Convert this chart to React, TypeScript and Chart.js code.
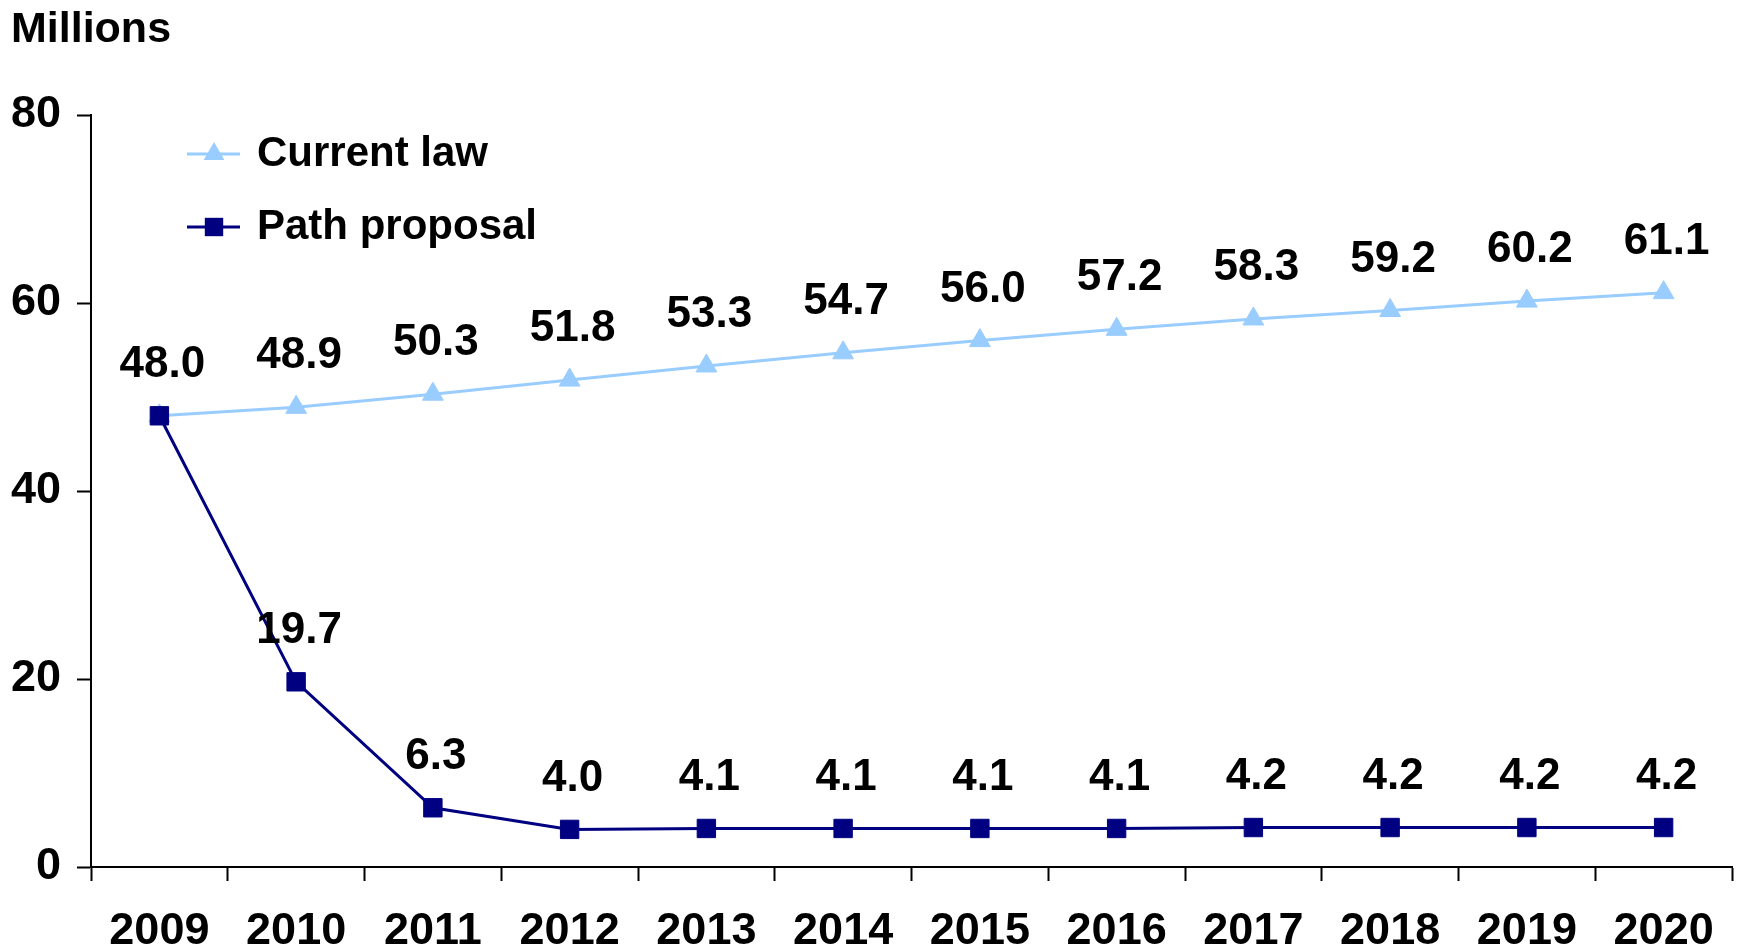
import React, { useEffect, useRef } from "react";
import { Chart, registerables } from "chart.js";

Chart.register(...registerables);

const years = ["2009", "2010", "2011", "2012", "2013", "2014", "2015", "2016", "2017", "2018", "2019", "2020"];
const currentLaw = [48.0, 48.9, 50.3, 51.8, 53.3, 54.7, 56.0, 57.2, 58.3, 59.2, 60.2, 61.1];
const pathProposal = [48.0, 19.7, 6.3, 4.0, 4.1, 4.1, 4.1, 4.1, 4.2, 4.2, 4.2, 4.2];
const seriesNames = ["Current law", "Path proposal"];
const yTicks = [0, 20, 40, 60, 80];
const unitLabel = "Millions";

const LIGHT = "#99CCFF";
const NAVY = "#000080";
const FONT = "'Liberation Sans', Arial, sans-serif";

export default function App() {
  const ref = useRef<HTMLCanvasElement | null>(null);

  useEffect(() => {
    document.body.style.margin = "0";
    const canvas = ref.current;
    if (!canvas) return;

    const labelsPlugin = {
      id: "valueLabels",
      afterDatasetsDraw(chart: any) {
        const ctx = chart.ctx;
        ctx.save();
        ctx.fillStyle = "#000";
        ctx.font = `bold 44px ${FONT}`;
        ctx.textAlign = "center";
        ctx.textBaseline = "middle";
        chart.data.datasets.forEach((ds: any, di: number) => {
          const meta = chart.getDatasetMeta(di);
          meta.data.forEach((pt: any, i: number) => {
            if (di === 1 && i === 0) return;
            ctx.fillText(Number(ds.data[i]).toFixed(1), pt.x + 3, pt.y - 51);
          });
        });
        ctx.restore();
      },
      afterDraw(chart: any) {
        const ctx = chart.ctx;
        ctx.save();
        ctx.fillStyle = "#000";
        ctx.font = `bold 43px ${FONT}`;
        ctx.textAlign = "left";
        ctx.textBaseline = "alphabetic";
        ctx.fillText(unitLabel, 11, 42);
        const rows = [
          { name: seriesNames[0], color: LIGHT, style: "triangle", r: 12, y: 154 },
          { name: seriesNames[1], color: NAVY, style: "rect", r: 13, y: 227 },
        ];
        rows.forEach((row) => {
          ctx.strokeStyle = row.color;
          ctx.lineWidth = 3;
          ctx.beginPath();
          ctx.moveTo(187, row.y);
          ctx.lineTo(240, row.y);
          ctx.stroke();
          ctx.fillStyle = row.color;
          ctx.beginPath();
          if (row.style === "triangle") {
            const r = row.r;
            ctx.moveTo(214, row.y - r);
            ctx.lineTo(214 + Math.sin((2 * Math.PI) / 3) * r, row.y + r / 2);
            ctx.lineTo(214 - Math.sin((2 * Math.PI) / 3) * r, row.y + r / 2);
            ctx.closePath();
          } else {
            const s = row.r * Math.SQRT1_2;
            ctx.rect(214 - s, row.y - s, 2 * s, 2 * s);
          }
          ctx.fill();
          ctx.fillStyle = "#000";
          ctx.font = `bold 42px ${FONT}`;
          ctx.textBaseline = "middle";
          ctx.fillText(row.name, 257, row.y);
        });
        ctx.restore();
      },
    };

    const chart = new Chart(canvas, {
      type: "line",
      data: {
        labels: years,
        datasets: [
          {
            label: seriesNames[0],
            data: currentLaw,
            order: 1,
            borderColor: LIGHT,
            backgroundColor: LIGHT,
            borderWidth: 3,
            pointStyle: "triangle",
            pointRadius: 12,
            pointBorderWidth: 1,
            pointBorderColor: LIGHT,
            pointBackgroundColor: LIGHT,
          },
          {
            label: seriesNames[1],
            data: pathProposal,
            order: 0,
            borderColor: NAVY,
            backgroundColor: NAVY,
            borderWidth: 3,
            pointStyle: "rect",
            pointRadius: 13,
            pointBorderWidth: 1,
            pointBorderColor: NAVY,
            pointBackgroundColor: NAVY,
          },
        ],
      },
      options: {
        responsive: false,
        animation: false,
        layout: { padding: { left: 0, top: 115, right: 11, bottom: 0 } },
        plugins: { legend: { display: false }, tooltip: { enabled: false } },
        scales: {
          x: {
            offset: true,
            grid: {
              offset: true,
              drawOnChartArea: false,
              drawTicks: true,
              tickLength: 14,
              tickColor: "#000",
              tickWidth: 2,
            },
            border: { display: true, color: "#000", width: 2 },
            ticks: {
              color: "#000",
              font: { family: FONT, size: 45, weight: "bold" },
              padding: 24,
              maxRotation: 0,
              autoSkip: false,
            },
            afterFit(s: any) {
              s.height = 82;
            },
          },
          y: {
            min: 0,
            max: 80,
            afterBuildTicks(s: any) {
              s.ticks = yTicks.map((v) => ({ value: v }));
            },
            grid: {
              drawOnChartArea: false,
              drawTicks: true,
              tickLength: 14,
              tickColor: "#000",
              tickWidth: 2,
            },
            border: { display: true, color: "#000", width: 2 },
            ticks: {
              color: "#000",
              font: { family: FONT, size: 45, weight: "bold" },
              padding: 16,
            },
            afterFit(s: any) {
              s.width = 91;
            },
          },
        },
      },
      plugins: [labelsPlugin],
    });

    return () => chart.destroy();
  }, []);

  return (
    <div style={{ width: 1746, height: 949 }}>
      <canvas ref={ref} width={1746} height={949} style={{ display: "block" }} />
    </div>
  );
}
